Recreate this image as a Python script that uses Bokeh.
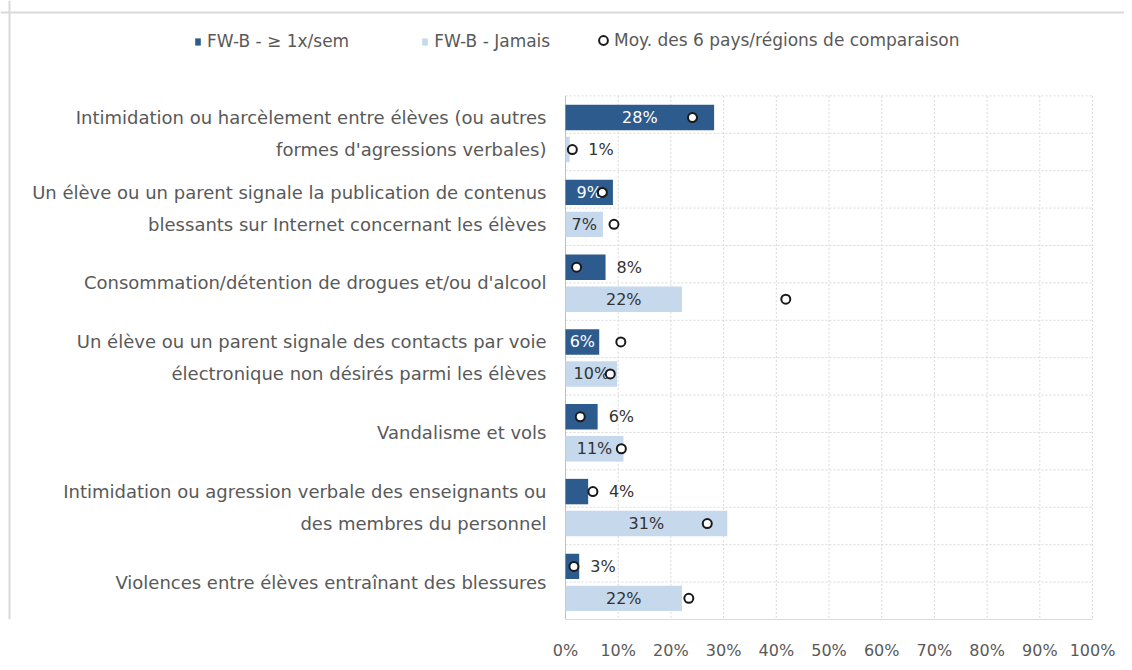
from bokeh.plotting import figure
from bokeh.models import (Range1d, FixedTicker, PrintfTickFormatter, Legend,
                          LegendItem, ColumnDataSource, Span)
from bokeh.core.properties import value
from bokeh.embed import file_html
from bokeh.resources import INLINE

# ---------------- data ----------------
categories = [
    "Intimidation ou harcèlement entre élèves (ou autres\nformes d'agressions verbales)",
    "Un élève ou un parent signale la publication de contenus\nblessants sur Internet concernant les élèves",
    "Consommation/détention de drogues et/ou d'alcool",
    "Un élève ou un parent signale des contacts par voie\nélectronique non désirés parmi les élèves",
    "Vandalisme et vols",
    "Intimidation ou agression verbale des enseignants ou\ndes membres du personnel",
    "Violences entre élèves entraînant des blessures",
]
series_names = ["FW-B - \u2265 1x/sem", "FW-B - Jamais", "Moy. des 6 pays/régions de comparaison"]
weekly = [28.2, 9.0, 7.6, 6.4, 6.1, 4.3, 2.6]
never = [0.8, 7.1, 22.1, 9.8, 11.0, 30.7, 22.1]
avg_weekly = [24.1, 7.0, 2.1, 10.5, 2.8, 5.2, 1.6]
avg_never = [1.3, 9.2, 41.8, 8.5, 10.6, 26.9, 23.4]
x_ticks = [0, 10, 20, 30, 40, 50, 60, 70, 80, 90, 100]

# label placement (style): True = label inside the bar
weekly_inside = [True, True, False, True, False, False, False]
never_inside = [False, True, True, True, True, True, True]

# ---------------- layout / style ----------------
DARK = "#2e5b8e"
LIGHT = "#c6d8ec"
FONT = "DejaVu Sans"
GREY_TXT = "#595959"
DARK_TXT = "#333333"
GRID = "#d9d9d9"

W, H = 1124, 662
PLOT_LEFT, PLOT_RIGHT = 565, 1092      # pixel position of 0% and 100%
PLOT_TOP, PLOT_BOTTOM = 96, 623        # pixel top / bottom of the bar area
CHART_BORDER_LEFT, CHART_BORDER_TOP = 9, 12
BORDER_BOTTOM = H - PLOT_BOTTOM

n = len(categories)
n_slots = 2 * n
px_per_unit = (PLOT_RIGHT - PLOT_LEFT) / 100.0
px_per_slot = (PLOT_BOTTOM - PLOT_TOP) / n_slots

y_dark = [2 * i + 0.5 + 0.08 for i in range(n)]
y_light = [2 * i + 1.5 - 0.065 for i in range(n)]
y_cat = [2 * i + 1 for i in range(n)]
BAR_H = 0.68

# the frame covers the whole canvas so that labels and legend are never clipped
p = figure(width=W, height=H,
           x_range=Range1d(-PLOT_LEFT / px_per_unit, (W - PLOT_LEFT) / px_per_unit),
           y_range=Range1d(n_slots, -PLOT_TOP / px_per_slot),
           output_backend="svg", toolbar_location=None, y_axis_location=None,
           min_border_left=0, min_border_right=0, min_border_top=0,
           min_border_bottom=BORDER_BOTTOM)
p.outline_line_color = None
p.background_fill_color = "white"
p.border_fill_color = "white"
p.grid.visible = False

# chart-area border (top and left edges)
p.add_layout(Span(location=-(PLOT_TOP - CHART_BORDER_TOP) / px_per_slot, dimension="width",
                  line_color=GRID, line_width=2))
p.add_layout(Span(location=-(PLOT_LEFT - CHART_BORDER_LEFT) / px_per_unit, dimension="height",
                  line_color=GRID, line_width=2))

# x axis (restricted to 0..100 %)
p.xaxis.bounds = (0, 100)
p.xaxis.ticker = FixedTicker(ticks=x_ticks)
p.xaxis.formatter = PrintfTickFormatter(format="%d%%")
p.xaxis.axis_line_color = GRID
p.xaxis.major_tick_line_color = None
p.xaxis.minor_tick_line_color = None
p.xaxis.major_tick_out = 0
p.xaxis.major_label_standoff = 21
p.xaxis.major_label_text_font = FONT
p.xaxis.major_label_text_font_size = "16px"
p.xaxis.major_label_text_color = GREY_TXT

# grid lines (dotted), limited to the bar area
slots = list(range(n_slots + 1))
p.segment(x0=x_ticks[1:], x1=x_ticks[1:], y0=[0] * (len(x_ticks) - 1),
          y1=[n_slots] * (len(x_ticks) - 1), line_color=GRID, line_dash="2 2", line_width=1)
p.segment(x0=[0] * len(slots[:-1]), x1=[100] * len(slots[:-1]), y0=slots[:-1], y1=slots[:-1],
          line_color=GRID, line_dash="2 2", line_width=1)
# category axis line at 0 %
p.segment(x0=[0], x1=[0], y0=[0], y1=[n_slots], line_color="#bfbfbf", line_width=1)

# bars
r_dark = p.hbar(y=y_dark, left=0, right=weekly, height=BAR_H, fill_color=DARK, line_color=None)
r_light = p.hbar(y=y_light, left=0, right=never, height=BAR_H, fill_color=LIGHT, line_color=None)

# category labels
cat_src = dict(x=[], y=[], text=[])
for i, cat in enumerate(categories):
    lines = cat.split("\n")
    ys = [y_dark[i], y_light[i]] if len(lines) == 2 else [y_cat[i]]
    for line, yy in zip(lines, ys):
        cat_src["x"].append(0)
        cat_src["y"].append(yy)
        cat_src["text"].append(line)
p.text(x="x", y="y", text="text", source=ColumnDataSource(cat_src), x_offset=-19,
       text_align="right", text_baseline="middle", text_color=GREY_TXT,
       text_font=value(FONT), text_font_size=value("18px"))

# data labels
def build_labels(vals, avgs, ys, inside, inside_color):
    ins = dict(x=[], y=[], text=[], color=[])
    outs = dict(x=[], y=[], text=[], off=[])
    for v, a, yy, inn in zip(vals, avgs, ys, inside):
        t = f"{round(v):d}%"
        if inn:
            ins["x"].append(v / 2)
            ins["y"].append(yy)
            ins["text"].append(t)
            ins["color"].append(inside_color)
        else:
            outs["x"].append(max(v, a))
            outs["y"].append(yy)
            outs["text"].append(t)
            outs["off"].append(16 if a > v else 11)
    return ins, outs

for vals, avgs, ys, inside, col in [(weekly, avg_weekly, y_dark, weekly_inside, "white"),
                                     (never, avg_never, y_light, never_inside, DARK_TXT)]:
    ins, outs = build_labels(vals, avgs, ys, inside, col)
    p.text(x="x", y="y", text="text", text_color="color", source=ColumnDataSource(ins),
           text_align="center", text_baseline="middle",
           text_font=value(FONT), text_font_size=value("16px"))
    p.text(x="x", y="y", text="text", x_offset="off", source=ColumnDataSource(outs),
           text_color=DARK_TXT, text_align="left", text_baseline="middle",
           text_font=value(FONT), text_font_size=value("16px"))

# comparison markers
r_avg = p.scatter(x=avg_weekly + avg_never, y=y_dark + y_light, marker="circle", size=9,
                  fill_color="white", line_color="#1a1a1a", line_width=2)

# legends (top, inside the canvas-wide frame); the marker entry needs a larger glyph box
legend_common = dict(orientation="horizontal", border_line_color=None,
                     background_fill_alpha=0, padding=0, margin=0,
                     label_text_font=FONT, label_text_font_size="17px",
                     label_text_color=GREY_TXT)
legend_bars = Legend(items=[LegendItem(label=series_names[0], renderers=[r_dark]),
                            LegendItem(label=series_names[1], renderers=[r_light])],
                     location=(194, PLOT_BOTTOM - 55), spacing=72,
                     glyph_width=7, glyph_height=9, label_standoff=6, **legend_common)
legend_avg = Legend(items=[LegendItem(label=series_names[2], renderers=[r_avg])],
                    location=(592, PLOT_BOTTOM - 55), spacing=0,
                    glyph_width=22, glyph_height=22, label_standoff=0, **legend_common)
p.add_layout(legend_bars)
p.add_layout(legend_avg)

open("out.html", "w").write(file_html(p, INLINE))
